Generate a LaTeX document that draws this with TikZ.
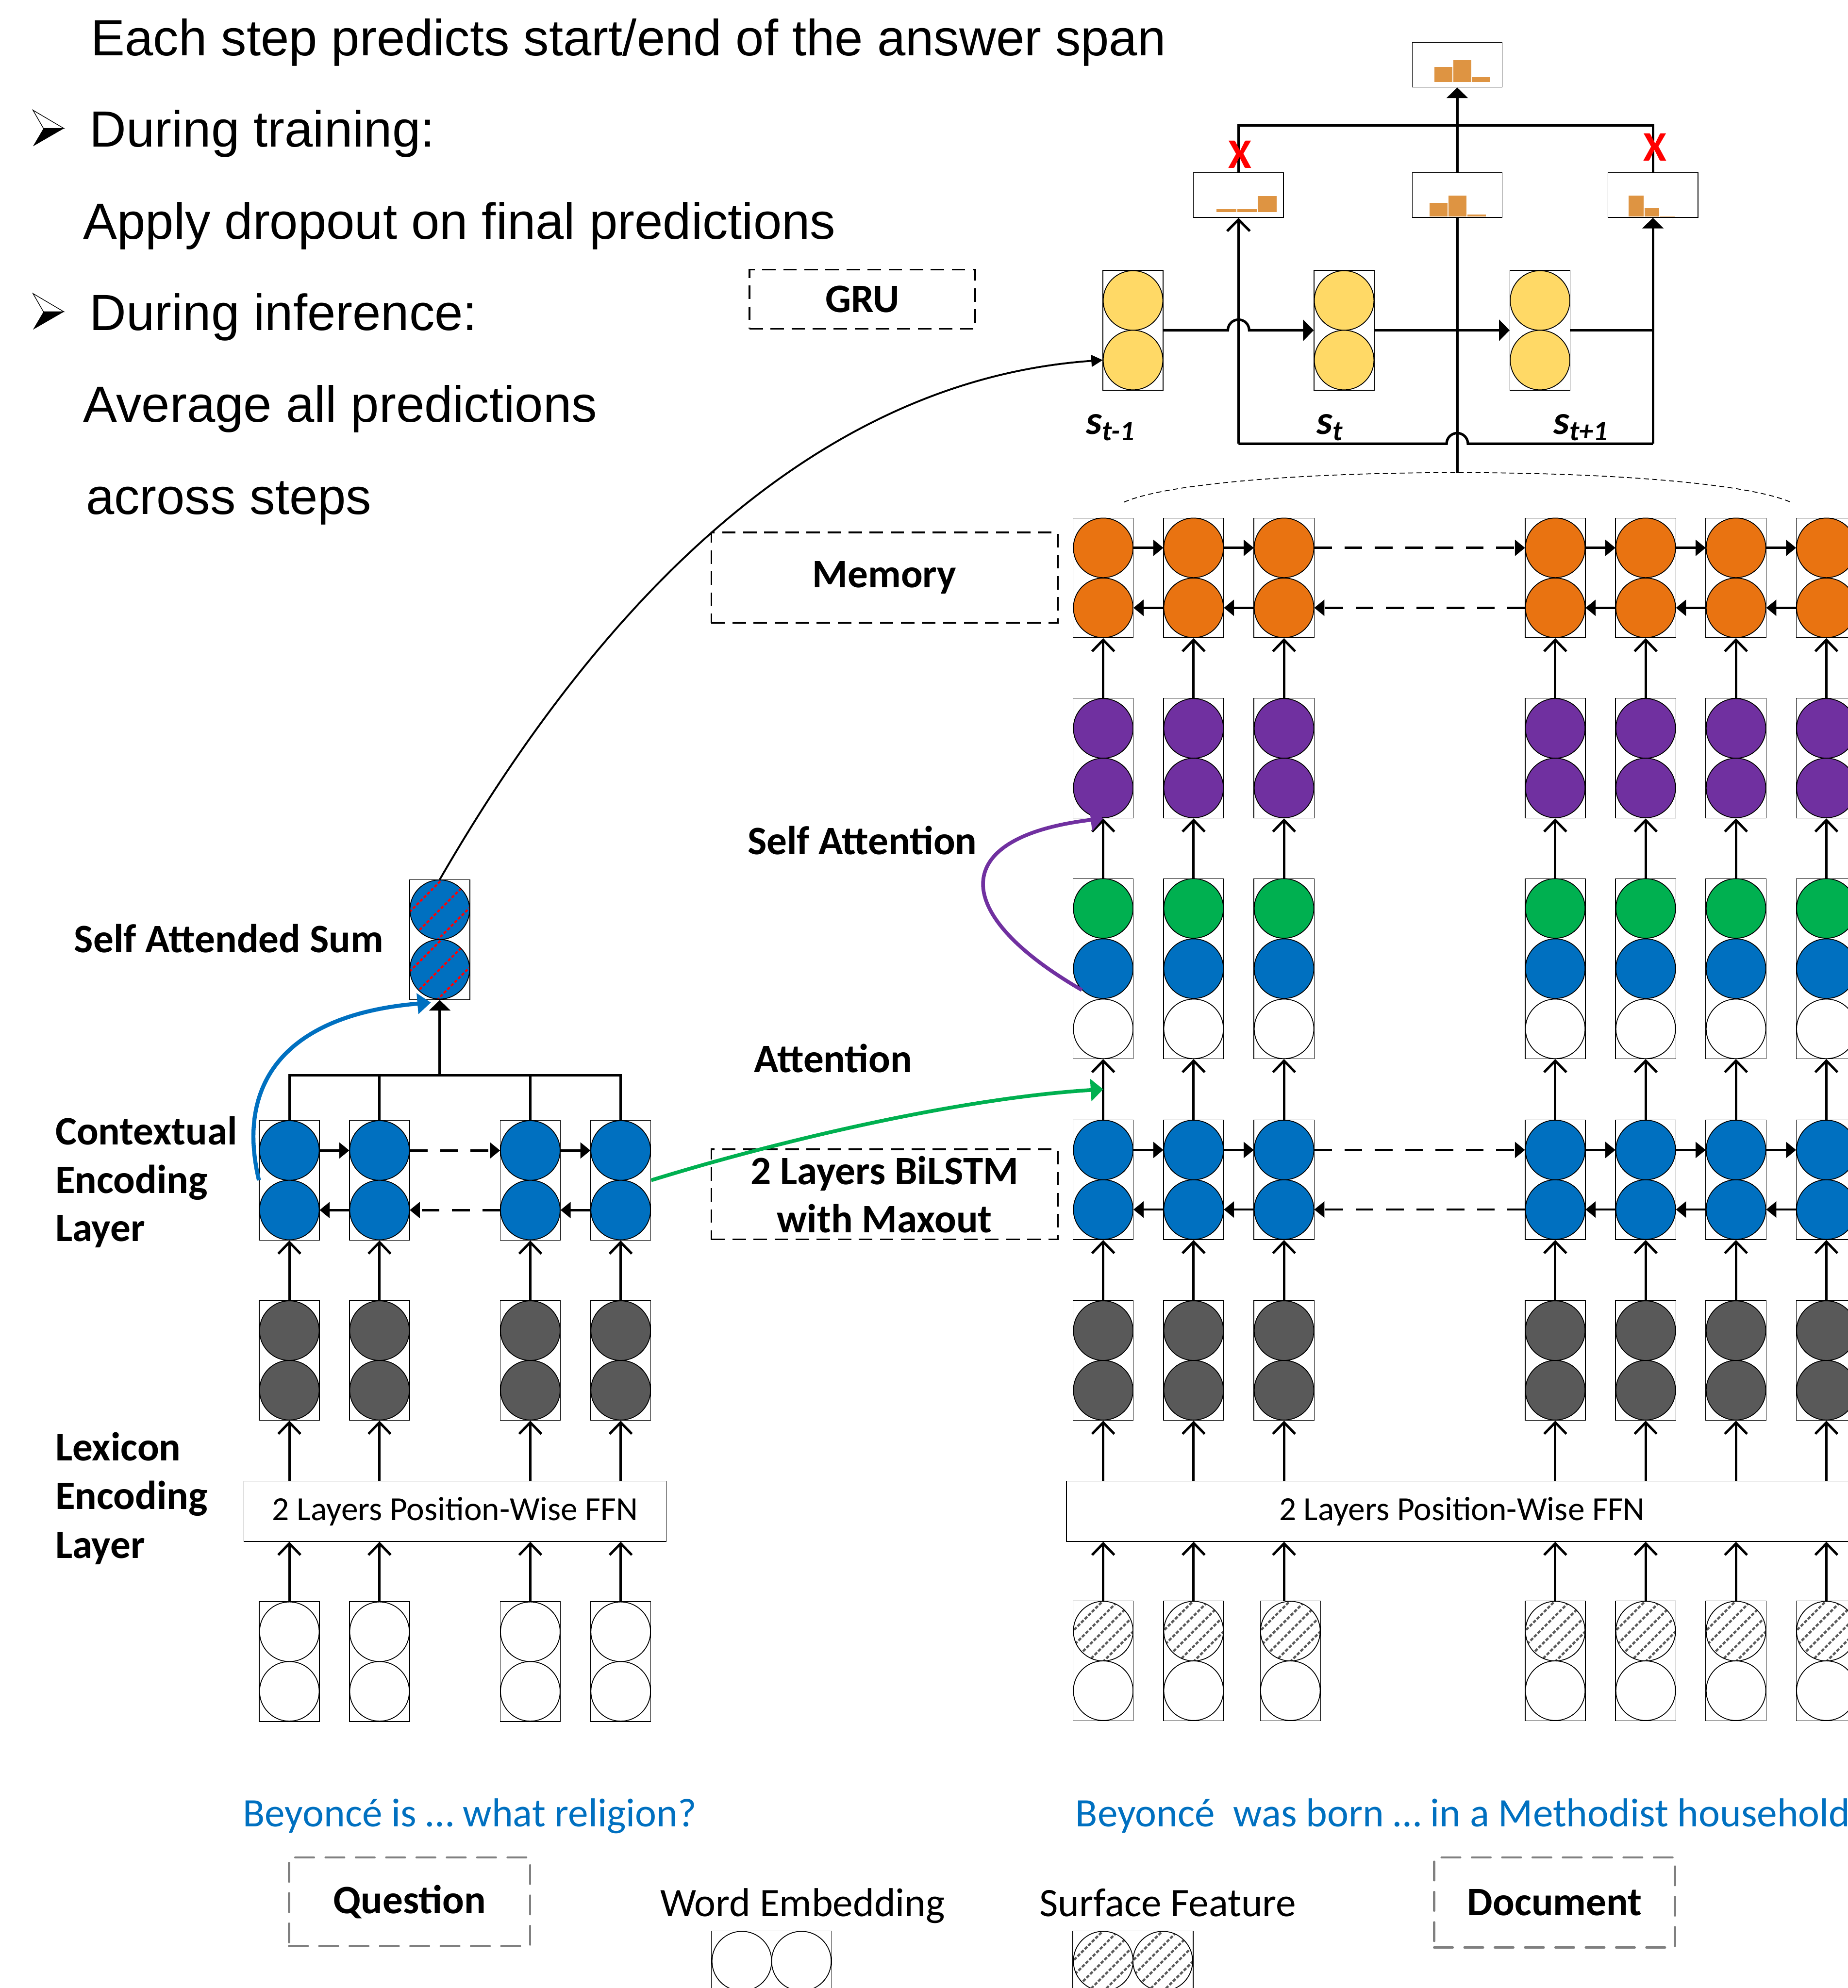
\documentclass[tikz,border=0pt]{standalone}
\usepackage{fontspec}
\setmainfont{Carlito}
\newfontfamily\headfont{Liberation Sans}
\usepackage{xcolor}
\usetikzlibrary{arrows.meta, positioning, calc}

\definecolor{memorange}{HTML}{E97311}
\definecolor{attpurple}{HTML}{7030A0}
\definecolor{attgreen}{HTML}{00B050}
\definecolor{encblue}{HTML}{0070C0}
\definecolor{lexgray}{HTML}{595959}
\definecolor{gruyellow}{HTML}{FFD966}
\definecolor{barorange}{HTML}{DE9442}

\newlength\pxl
\setlength\pxl{0.26452mm}

\begin{document}
\begin{tikzpicture}[x=0.26452mm, y=-0.26452mm,
    cell/.style={circle, draw, line width=0.5pt, minimum size=47\pxl, inner sep=0pt},
    colbox/.style={draw, line width=0.4pt, minimum width=47.5\pxl, inner sep=0pt},
    box2/.style={colbox, minimum height=94.5\pxl},
    box3/.style={colbox, minimum height=142\pxl},
    lbl/.style={font=\fontsize{24pt}{28.6pt}\selectfont\bfseries, inner sep=0pt, anchor=base},
    legtxt/.style={font=\fontsize{24pt}{28.6pt}\selectfont, inner sep=0pt, anchor=base},
    bluetxt/.style={legtxt, text=encblue},
    headtxt/.style={font=\headfont\fontsize{30.2pt}{36pt}\selectfont, inner sep=0pt, anchor=base west},
    ffn/.style={draw, line width=0.4pt, minimum height=47.5\pxl, inner sep=0pt, font=\fontsize{20pt}{24pt}\selectfont},
    dashtag/.style={draw, line width=1.1pt, dash pattern=on 8pt off 4.5pt, inner sep=0pt, align=center,
        font=\fontsize{24pt}{28.6pt}\selectfont\bfseries},
    graytag/.style={dashtag, draw=gray, line cap=round, line width=1.4pt, dash pattern=on 11pt off 7pt},
    uparr/.style={line width=1.45pt, -{Straight Barb[length=6.8pt, width=13.2pt]}},
    sidearr/.style={line width=1.35pt, -{Triangle[length=6pt, width=9.4pt]}},
    gapline/.style={dash pattern=on 10.5pt off 7.5pt},
    wire/.style={line width=1.5pt},
    fat/.style={-{Triangle[length=6.3pt, width=12.5pt]}},
    predbox/.style={draw, line width=0.4pt, minimum width=71\pxl, minimum height=35.5\pxl, inner sep=0pt},
    histbar/.style={fill=barorange, draw=white, line width=0.3pt},
    slbl/.style={font=\fontsize{24pt}{28.6pt}\selectfont\bfseries\itshape, inner sep=0pt},
    redx/.style={text=red, font=\fontsize{25pt}{30pt}\selectfont\bfseries, inner sep=0pt},
    surf/.style={fill=white, path picture={
        \foreach \hk in {-36,-24,...,36}
          \draw[lexgray, line width=1.3pt, dash pattern=on 2pt off 1pt]
            ($(path picture bounding box.center)+(\hk-30,30)$) -- ++(60,-60);}},
    sashatch/.style={fill=encblue, path picture={
        \foreach \hk in {-44,-22,...,44}
          \draw[red, line width=1.2pt, dash pattern=on 1.8pt off 1.2pt]
            ($(path picture bounding box.center)+(\hk-30,30)$) -- ++(60,-60);}}]

\useasboundingbox (0,0) rectangle (1457,1568);

\node[headtxt] (hd1) at (71.6,43.8) {Each step predicts start/end of the answer span};
\node[headtxt] (hd2) at (70.5,115.8) {During training:};
\node[headtxt] (hd3) at (65.4,188.4) {Apply dropout on final predictions};
\node[headtxt] (hd4) at (70.5,260.4) {During inference:};
\node[headtxt] (hd5) at (65.4,332.8) {Average all predictions};
\node[headtxt] (hd6) at (67.5,405.7) {across steps};
\foreach \by in {0,144.6} {
  \filldraw[fill=white, line width=0.4pt] (26,86.9+\by) -- (50.4,101.3+\by) -- (34.3,101.3+\by) -- cycle;
  \fill (34.3,101.3+\by) -- (50.4,101.3+\by) -- (26,115.4+\by) -- cycle;
}

\node[dashtag, minimum width=178\pxl, minimum height=46.7\pxl] (gru) at (680,236) {GRU};
\node[dashtag, minimum width=273\pxl, minimum height=71\pxl] (mem) at (697.5,455.5) {Memory};
\node[dashtag, minimum width=273\pxl, minimum height=71\pxl] (bil) at (697.5,942) {2 Layers BiLSTM\\with Maxout};
\node[lbl] (lsa) at (680,673.8) {Self Attention};
\node[lbl] (latt) at (657,846) {Attention};
\node[lbl] (lsum) at (180.5,751.2) {Self Attended Sum};
\node[lbl, anchor=base west] (ctx1) at (43.4,903) {Contextual};
\node[lbl, anchor=base west] (ctx2) at (43.4,941) {Encoding};
\node[lbl, anchor=base west] (ctx3) at (43.4,979) {Layer};
\node[lbl, anchor=base west] (lex1) at (43.4,1152) {Lexicon};
\node[lbl, anchor=base west] (lex2) at (43.4,1190.5) {Encoding};
\node[lbl, anchor=base west] (lex3) at (43.4,1229) {Layer};

% document side
\foreach \ci/\cx/\sh in {1/870/0, 2/941.3/0, 3/1012.6/5, 4/1226.5/0, 5/1297.8/0, 6/1369/0, 7/1440.3/0} {
  \node[box2] (dm\ci) at (\cx,455.8) {};
  \node[cell, fill=memorange] (dm\ci-a) at (\cx,432.1) {};
  \node[cell, fill=memorange] (dm\ci-b) at (\cx,479.4) {};
  \node[box2] (dp\ci) at (\cx,598) {};
  \node[cell, fill=attpurple] (dp\ci-a) at (\cx,574.5) {};
  \node[cell, fill=attpurple] (dp\ci-b) at (\cx,621.5) {};
  \node[box3] (da\ci) at (\cx,764) {};
  \node[cell, fill=attgreen] (da\ci-a) at (\cx,716.5) {};
  \node[cell, fill=encblue] (da\ci-b) at (\cx,764) {};
  \node[cell, fill=white] (da\ci-c) at (\cx,811.5) {};
  \node[box2] (dl\ci) at (\cx,930.5) {};
  \node[cell, fill=encblue] (dl\ci-a) at (\cx,907) {};
  \node[cell, fill=encblue] (dl\ci-b) at (\cx,954) {};
  \node[box2] (dg\ci) at (\cx,1073) {};
  \node[cell, fill=lexgray] (dg\ci-a) at (\cx,1049.5) {};
  \node[cell, fill=lexgray] (dg\ci-b) at (\cx,1096.5) {};
  \node[box2] (di\ci) at (\cx+\sh,1310) {};
  \node[cell, surf] (di\ci-a) at (\cx+\sh,1286.5) {};
  \node[cell, fill=white] (di\ci-b) at (\cx+\sh,1333.5) {};
}
\node[ffn, minimum width=624\pxl] (ffnd) at (1153,1192) {2 Layers Position-Wise FFN};
\foreach \ci in {1,...,7} {
  \draw[uparr] (di\ci.north -| dg\ci) -- (ffnd.south -| dg\ci);
  \draw[uparr] (ffnd.north -| dg\ci) -- (dg\ci.south);
  \draw[uparr] (dg\ci.north) -- (dl\ci.south);
  \draw[uparr] (dl\ci.north) -- (da\ci.south);
  \draw[uparr] (da\ci.north) -- (dp\ci.south);
  \draw[uparr] (dp\ci.north) -- (dm\ci.south);
}
\foreach \rw in {dl,dm} {
  \foreach \a/\b/\ls in {1/2/solid, 2/3/solid, 3/4/gapline, 4/5/solid, 5/6/solid, 6/7/solid} {
    \draw[sidearr, \ls] (\rw\a-a.east) -- (\rw\b-a.west);
    \draw[sidearr, \ls] (\rw\b-b.west) -- (\rw\a-b.east);
  }
}

% question side
\foreach \ci/\cx in {1/228.2, 2/299.3, 3/418.2, 4/489.5} {
  \node[box2] (ql\ci) at (\cx,930.9) {};
  \node[cell, fill=encblue] (ql\ci-a) at (\cx,907.4) {};
  \node[cell, fill=encblue] (ql\ci-b) at (\cx,954.4) {};
  \node[box2] (qg\ci) at (\cx,1073) {};
  \node[cell, fill=lexgray] (qg\ci-a) at (\cx,1049.5) {};
  \node[cell, fill=lexgray] (qg\ci-b) at (\cx,1096.5) {};
  \node[box2] (qi\ci) at (\cx,1310.5) {};
  \node[cell, fill=white] (qi\ci-a) at (\cx,1287) {};
  \node[cell, fill=white] (qi\ci-b) at (\cx,1334) {};
}
\node[ffn, minimum width=333\pxl] (ffnq) at (358.8,1192) {2 Layers Position-Wise FFN};
\foreach \ci in {1,...,4} {
  \draw[uparr] (qi\ci.north) -- (ffnq.south -| qi\ci);
  \draw[uparr] (ffnq.north -| qg\ci) -- (qg\ci.south);
  \draw[uparr] (qg\ci.north) -- (ql\ci.south);
}
\foreach \a/\b/\ls in {1/2/solid, 2/3/gapline, 3/4/solid} {
  \draw[sidearr, \ls] (ql\a-a.east) -- (ql\b-a.west);
  \draw[sidearr, \ls] (ql\b-b.west) -- (ql\a-b.east);
}
\node[box2] (qs) at (346.8,741.2) {};
\node[cell, sashatch] (qs-a) at (346.8,717.5) {};
\node[cell, sashatch] (qs-b) at (346.8,764.5) {};
\coordinate (qbar) at (346.8,848);
\draw[line width=1.4pt] (ql1.north) -- (ql1.north |- qbar) -- (ql4.north |- qbar) -- (ql4.north);
\draw[line width=1.4pt] (ql2.north) -- (ql2.north |- qbar);
\draw[line width=1.4pt] (ql3.north) -- (ql3.north |- qbar);
\draw[line width=1.6pt, fat] (qbar) -- (qs.south);

% answer module
\foreach \ci/\cx in {1/893.5, 2/1060, 3/1214.5} {
  \node[box2] (s\ci) at (\cx,260.5) {};
  \node[cell, fill=gruyellow] (s\ci-a) at (\cx,237) {};
  \node[cell, fill=gruyellow] (s\ci-b) at (\cx,284) {};
}
\node[slbl] (ls1) at (876,337) {s\textsubscript{t-1}};
\node[slbl] (ls2) at (1049,337) {s\textsubscript{t}};
\node[slbl] (ls3) at (1247,337) {s\textsubscript{t+1}};

\node[predbox] (p1) at (976.7,153.8) {};
\node[predbox] (p2) at (1149.2,153.8) {};
\node[predbox] (p3) at (1303.5,153.8) {};
\node[predbox] (pavg) at (1149.2,51) {};
\fill[histbar] (959.3,164.7) rectangle (975.2,167.3) (975.5,164.7) rectangle (991.3,167.3) (991.6,154.5) rectangle (1007,167.3);
\fill[histbar] (1127.3,160) rectangle (1141.7,171) (1142,153.9) rectangle (1156.7,171) (1157,169) rectangle (1172,171);
\fill[histbar] (1284,153.9) rectangle (1296.4,171) (1296.7,163.9) rectangle (1308.8,171) (1309.1,170.1) rectangle (1321,171);
\fill[histbar] (1131,52.5) rectangle (1145.5,65) (1145.8,47.3) rectangle (1160.3,65) (1160.6,60.8) rectangle (1175,65);

\coordinate (jl) at (976.7,350);
\coordinate (jr) at (1303.5,350);
\coordinate (jm) at (1149.2,372.7);
\coordinate (tm) at (1149.2,99);
\draw[wire, fat] (s1.east) -- ($(s1.east -| jl)+(-8.4,0)$) arc[start angle=180, end angle=360, radius=8.4] -- (s2.west);
\draw[wire, fat] (s2.east) -- (s3.west);
\draw[wire] (s3.east) -- (s3.east -| jr);
\draw[wire] (jl) -- ($(jm |- jl)+(-8.4,0)$) arc[start angle=180, end angle=360, radius=8.4] -- (jr);
\draw[wire, -{Straight Barb[length=6.8pt, width=13.5pt]}] (jl) -- (p1.south);
\draw[wire, fat] (jr) -- (p3.south);
\draw[wire] (jm) -- (p2.south);
\draw[wire, fat] (p2.north) -- (pavg.south);
\draw[wire] (p1.north) -- (p1.north |- tm) -- (p3.north |- tm) -- (p3.north);
\node[redx] (x1) at (977.9,122) {X};
\node[redx] (x2) at (1305.3,116.2) {X};
\coordinate (arcl) at (886.5,396);
\coordinate (arcr) at (1412,396);
\draw[line width=0.5pt, dash pattern=on 3pt off 2pt] (arcl) .. controls (958,365) and (1340,365) .. (arcr);

% curved connectors
\draw[line width=1.1pt, -{Triangle[length=6.8pt, width=7pt]}] (qs.north) .. controls (470,480) and (640,300) .. (s1-b.west);
\draw[encblue, line width=2.4pt, -{Triangle[length=8pt, width=12pt]}] (ql1.west) .. controls (185,850) and (230,800) .. ($(qs.south)+(-7,2)$);
\draw[attgreen, line width=2.2pt, -{Triangle[length=7.4pt, width=13pt]}] (ql4.east) .. controls (620,898) and (760,866) .. ($(dl1.north)!0.5!(da1.south)$);
\draw[attpurple, line width=2.2pt, -{Triangle[length=7.4pt, width=13pt]}] (da1-b.south west) .. controls (748,720) and (748,660) .. (dp1.south);

% inputs and legend
\node[bluetxt] (qtxt) at (370.5,1440.6) {Beyoncé is … what religion?};
\node[bluetxt, anchor=base west] (dtxt) at (848,1440.6) {Beyoncé\ \ was born … in a Methodist household};
\node[graytag, minimum width=190\pxl, minimum height=70\pxl] (qtag) at (323,1500) {Question};
\node[graytag, minimum width=190\pxl, minimum height=71\pxl] (dtag) at (1226,1500.5) {Document};
\node[legtxt] (lwe) at (633,1511.5) {Word Embedding};
\node[legtxt] (lsf) at (921,1511.5) {Surface Feature};
\node[colbox, minimum width=95\pxl, minimum height=47.5\pxl] (lgw) at (608.5,1546.8) {};
\node[cell, fill=white] (lgw-a) at (585,1546.8) {};
\node[cell, fill=white] (lgw-b) at (632,1546.8) {};
\node[colbox, minimum width=95\pxl, minimum height=47.5\pxl] (lgs) at (893.5,1546.8) {};
\node[cell, surf] (lgs-a) at (870,1546.8) {};
\node[cell, surf] (lgs-b) at (917,1546.8) {};
\end{tikzpicture}
\end{document}
